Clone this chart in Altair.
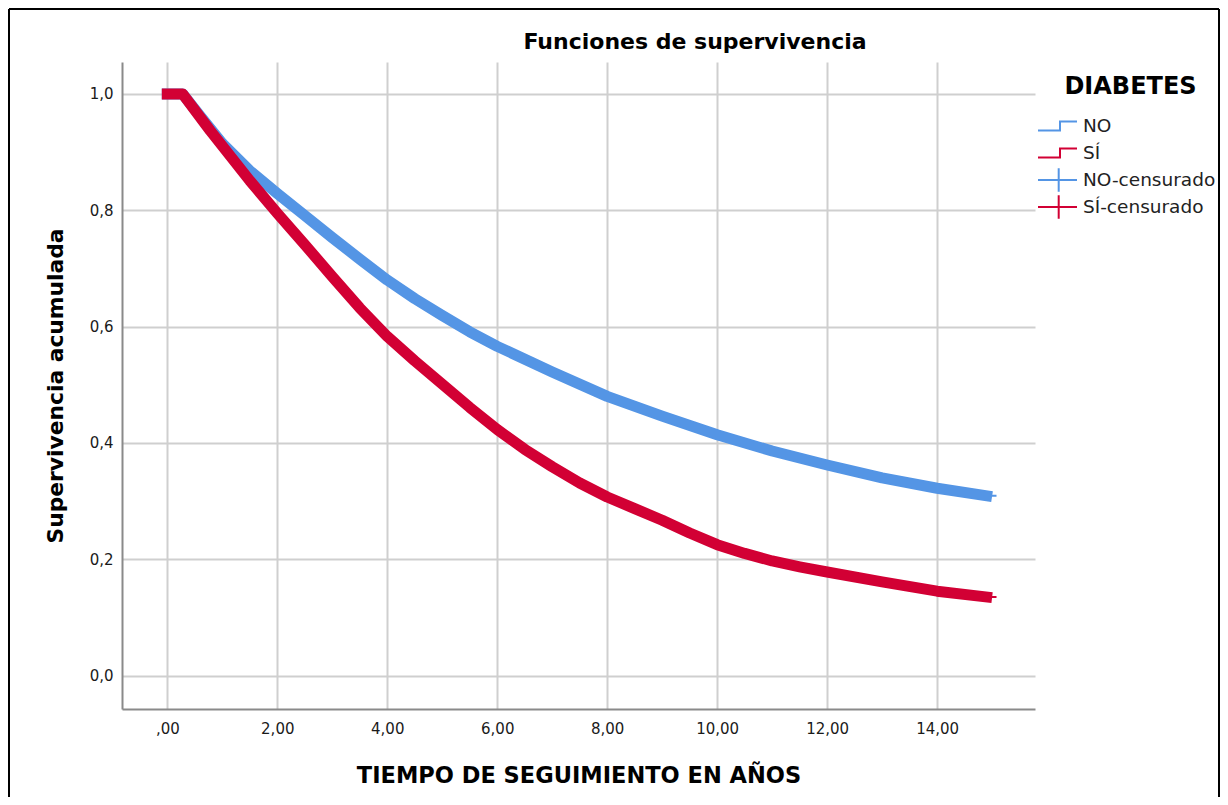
import altair as alt
import pandas as pd

# ---------------- data ----------------
title_text = "Funciones de supervivencia"
x_title = "TIEMPO DE SEGUIMIENTO EN AÑOS"
y_title = "Supervivencia acumulada"
legend_title = "DIABETES"

time_no = [0.0, 0.28, 0.6, 1.0, 1.5, 2.0, 2.5, 3.0, 3.5, 4.0, 4.5, 5.0, 5.5, 6.0, 7.0,
           8.0, 9.0, 10.0, 11.0, 12.0, 13.0, 14.0, 14.9]
surv_no = [1.0, 1.0, 0.962, 0.915, 0.868, 0.829, 0.791, 0.753, 0.716, 0.680, 0.648,
           0.619, 0.591, 0.566, 0.522, 0.480, 0.446, 0.414, 0.386, 0.362, 0.340,
           0.322, 0.309]

time_si = [0.0, 0.28, 0.78, 1.5, 2.0, 2.5, 3.0, 3.5, 4.0, 4.5, 5.0, 5.5, 6.0, 6.5,
           7.0, 7.5, 8.0, 8.5, 9.0, 9.5, 10.0, 10.5, 11.0, 11.5, 12.0, 13.0, 14.0, 14.9]
surv_si = [1.0, 1.0, 0.937, 0.851, 0.795, 0.741, 0.686, 0.632, 0.583, 0.541, 0.501,
           0.461, 0.423, 0.389, 0.359, 0.331, 0.307, 0.287, 0.267, 0.245, 0.225,
           0.210, 0.197, 0.187, 0.178, 0.161, 0.145, 0.135]

end_time = 15.08  # last follow-up time (thin tail of the step line)

x_ticks = [0, 2, 4, 6, 8, 10, 12, 14]
x_tick_labels = [",00", "2,00", "4,00", "6,00", "8,00", "10,00", "12,00", "14,00"]
y_ticks = [0.0, 0.2, 0.4, 0.6, 0.8, 1.0]
y_tick_labels = ["0,0", "0,2", "0,4", "0,6", "0,8", "1,0"]

legend_labels = ["NO", "SÍ", "NO-censurado", "SÍ-censurado"]

BLUE = "#5495e5"
RED = "#d20034"
legend_colors = [BLUE, RED, BLUE, RED]
# step symbol (with invisible move-to points so that all legend rows get equal height)
step_path = "M0.12,-1.17M-1.95,0.45L0.25,0.45L0.25,-0.45L1.95,-0.45M0.12,1.17"
cross_path = "M-1.95,0L1.95,0M0.12,-1.17L0.12,1.17"
legend_shapes = [step_path, step_path, cross_path, cross_path]

# ---------------- styling ----------------
FONT = "DejaVu Sans"
W, H = 913, 647
X_DOMAIN = [-0.824, 15.78]
Y_DOMAIN = [-0.0576, 1.055]


def label_expr(values, labels):
    expr = "''"
    for v, l in reversed(list(zip(values, labels))):
        expr = f"abs(datum.value - {v}) < 1e-6 ? '{l}' : ({expr})"
    return expr


x_scale = alt.Scale(domain=X_DOMAIN, nice=False, zero=False)
y_scale = alt.Scale(domain=Y_DOMAIN, nice=False, zero=False)

x_axis = alt.Axis(
    values=x_ticks, labelExpr=label_expr(x_ticks, x_tick_labels),
    ticks=False, tickSize=0, labelPadding=12, labelFont=FONT, labelFontSize=15,
    labelColor="#1a1a1a", labelFlush=False,
    grid=True, gridColor="#cfcfcf", gridWidth=2,
    domainColor="#8a8a8a", domainWidth=2,
    title=x_title, titleFont=FONT, titleFontSize=22.5, titleFontWeight="bold",
    titleColor="#000000", titleX=W / 2, titleY=66, titleBaseline="middle",
    titleAlign="center",
)
y_axis = alt.Axis(
    values=y_ticks, labelExpr=label_expr(y_ticks, y_tick_labels),
    ticks=False, tickSize=0, labelPadding=9, labelFont=FONT, labelFontSize=15,
    labelColor="#1a1a1a", labelFlush=False,
    grid=True, gridColor="#cfcfcf", gridWidth=2,
    domainColor="#8a8a8a", domainWidth=2,
    title=y_title, titleFont=FONT, titleFontSize=21.8, titleFontWeight="bold",
    titleColor="#000000", titleX=-67, titleY=H / 2, titleBaseline="middle",
    titleAlign="center",
)


def curve_layers(times, survs, color):
    band = pd.DataFrame({"t": times, "s": survs})
    thin = pd.DataFrame({"t": times + [end_time], "s": survs + [survs[-1]]})
    enc = dict(x=alt.X("t:Q", scale=x_scale, axis=x_axis),
               y=alt.Y("s:Q", scale=y_scale, axis=y_axis),
               order=alt.Order("t:Q"))
    thin_l = alt.Chart(thin).mark_line(strokeWidth=2, color=color).encode(**enc)
    band_l = alt.Chart(band).mark_line(strokeWidth=11, color=color,
                                       strokeCap="square", strokeJoin="round").encode(**enc)
    return [thin_l, band_l]


layers = []
layers += curve_layers(time_no, surv_no, BLUE)
layers += curve_layers(time_si, surv_si, RED)

legend = alt.Legend(
    title=legend_title, orient="none", legendX=924.5, legendY=13, padding=0,
    titleFont=FONT, titleFontSize=24, titleFontWeight="bold", titleColor="#000000",
    titleAnchor="middle", titlePadding=16,
    labelFont=FONT, labelFontSize=18.5, labelColor="#222222", labelOffset=14.5,
    rowPadding=-5, symbolSize=400, symbolStrokeWidth=2, symbolOpacity=1,
    symbolFillColor="transparent",
)
leg_df = pd.DataFrame({"serie": legend_labels})
legend_layer = alt.Chart(leg_df).mark_point(
    clip=True, filled=False, opacity=1, size=400, strokeWidth=2).encode(
    x=alt.value(-60), y=alt.value(-60),
    color=alt.Color("serie:N", scale=alt.Scale(domain=legend_labels, range=legend_colors),
                    legend=legend),
    shape=alt.Shape("serie:N", scale=alt.Scale(domain=legend_labels, range=legend_shapes),
                    legend=legend),
)

one = pd.DataFrame({"k": [0]})
title_layer = alt.Chart(one).mark_text(
    font=FONT, fontSize=22, fontWeight="bold", color="#000000",
    align="center", baseline="middle").encode(
    x=alt.value(573), y=alt.value(-20), text=alt.value(title_text))

# outer frame of the figure
frame_left = alt.Chart(one).mark_rule(color="black", strokeWidth=2).encode(
    x=alt.value(-113), y=alt.value(-53), y2=alt.value(735))
frame_top = alt.Chart(one).mark_rule(color="black", strokeWidth=2).encode(
    x=alt.value(-113), x2=alt.value(1097), y=alt.value(-53))
frame_right = alt.Chart(one).mark_rule(color="black", strokeWidth=2).encode(
    x=alt.value(1097), y=alt.value(-53), y2=alt.value(735))

chart = alt.layer(*layers, legend_layer, title_layer,
                  frame_left, frame_top, frame_right).properties(
    width=W, height=H,
    background="white",
    padding={"left": 114, "top": 54, "right": 185, "bottom": 88},
    autosize=alt.AutoSizeParams(type="none"),
).configure_view(stroke=None)

chart.save("out.html", embed_options={"renderer": "svg", "actions": False})
